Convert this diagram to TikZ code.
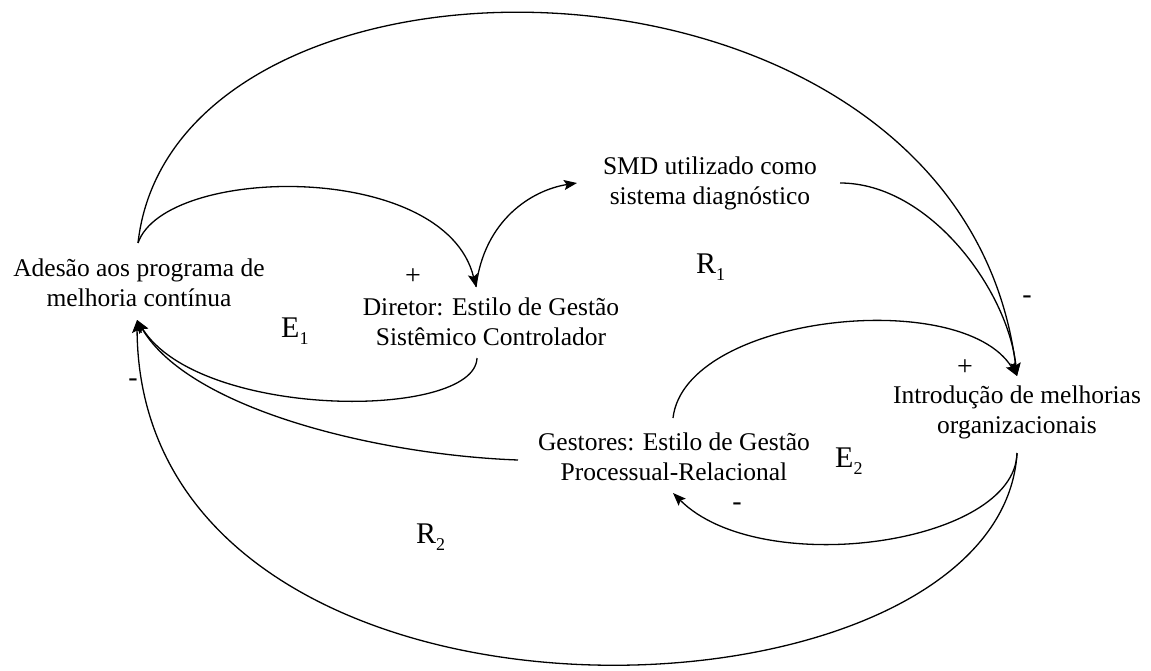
\documentclass[tikz,border=0pt]{standalone}
\usepackage{fontspec}
\setmainfont{Liberation Serif}
\usetikzlibrary{arrows.meta,calc}
\newcommand{\loopid}[2]{#1\raisebox{-7pt}{\fontsize{18}{18}\selectfont #2}}
\begin{document}
\begin{tikzpicture}[x=1pt,y=-1pt,
  var/.style={align=center,inner sep=0pt,font=\fontsize{25.5}{30}\selectfont},
  sign/.style={inner sep=0pt,font=\fontsize{28}{30}\selectfont},
  loopname/.style={inner sep=0pt,anchor=base west,font=\fontsize{30}{32}\selectfont},
  link/.style={line width=1.3pt,-{Stealth[length=13pt,width=10pt,inset=2.5pt]}},
  plain/.style={line width=1.3pt}]
\useasboundingbox (0,0) rectangle (1151,671);

% variables
\node[var] (adesao) at (139,283) {Adesão aos programa de\\melhoria contínua};
\node[var] (diretor) at (491,322) {Diretor: Estilo de Gestão\\Sistêmico Controlador};
\node[var] (smd) at (710,183) {SMD utilizado como\\sistema diagnóstico};
\node[var] (intro) at (1017,412) {Introdução de melhorias\\organizacionais};
\node[var] (gestores) at (674,457) {Gestores: Estilo de Gestão\\Processual-Relacional};

% connector ends
\coordinate (aTop) at ($(adesao.center)+(-1,-40)$);
\coordinate (aIn) at ($(adesao.center)+(-2,37)$);
\coordinate (dIn) at ($(diretor.center)+(-15,-35)$);
\coordinate (dOut) at ($(diretor.center)+(-14,36)$);
\coordinate (smdIn) at ($(smd.center)+(-133,0)$);
\coordinate (smdOut) at ($(smd.center)+(130,0)$);
\coordinate (iIn) at ($(intro.center)+(0,-36)$);
\coordinate (iOut) at ($(intro.center)+(0,41)$);
\coordinate (gTop) at ($(gestores.center)+(-1,-39)$);
\coordinate (gIn) at ($(gestores.center)+(-1,36)$);
\coordinate (gLeft) at ($(gestores.center)+(-156,3)$);

% causal links
\draw[link] (aTop) .. controls +(37,-329) and +(-57,-455) .. (iIn);
\draw[link] (aTop) .. controls +(27,-78) and +(-31,-127) .. (dIn);
\draw[link] (dIn) .. controls +(8,-67) and +(-45,7) .. (smdIn);
\draw[link] (smdOut) .. controls +(90,0) and +(-9,-85) .. (iIn);
\draw[link] (gTop) .. controls +(12,-103) and +(-55,-90) .. (iIn);
\draw[link] (iOut) .. controls +(-2,92) and +(87,87) .. (gIn);
\draw[link] (iOut) .. controls +(-17,287) and +(3,450) .. (aIn);
\draw[link] (dOut) .. controls +(-2,62) and +(63,100) .. (aIn);
\draw[link] (gLeft) .. controls +(-138,-5) and +(53,90) .. (aIn);

% polarities
\node[sign] (p1) at (413,277) {+};
\node[sign] (m1) at (1027,300) {-};
\node[sign] (p2) at (965,368) {+};
\node[sign] (m2) at (737,507) {-};
\node[sign] (m3) at (133,383) {-};

% loop identifiers
\node[loopname] (e1) at (281,337) {\loopid{E}{1}};
\node[loopname] (r1) at (696,273) {\loopid{R}{1}};
\node[loopname] (e2) at (835,467) {\loopid{E}{2}};
\node[loopname] (r2) at (416,543) {\loopid{R}{2}};
\end{tikzpicture}
\end{document}
